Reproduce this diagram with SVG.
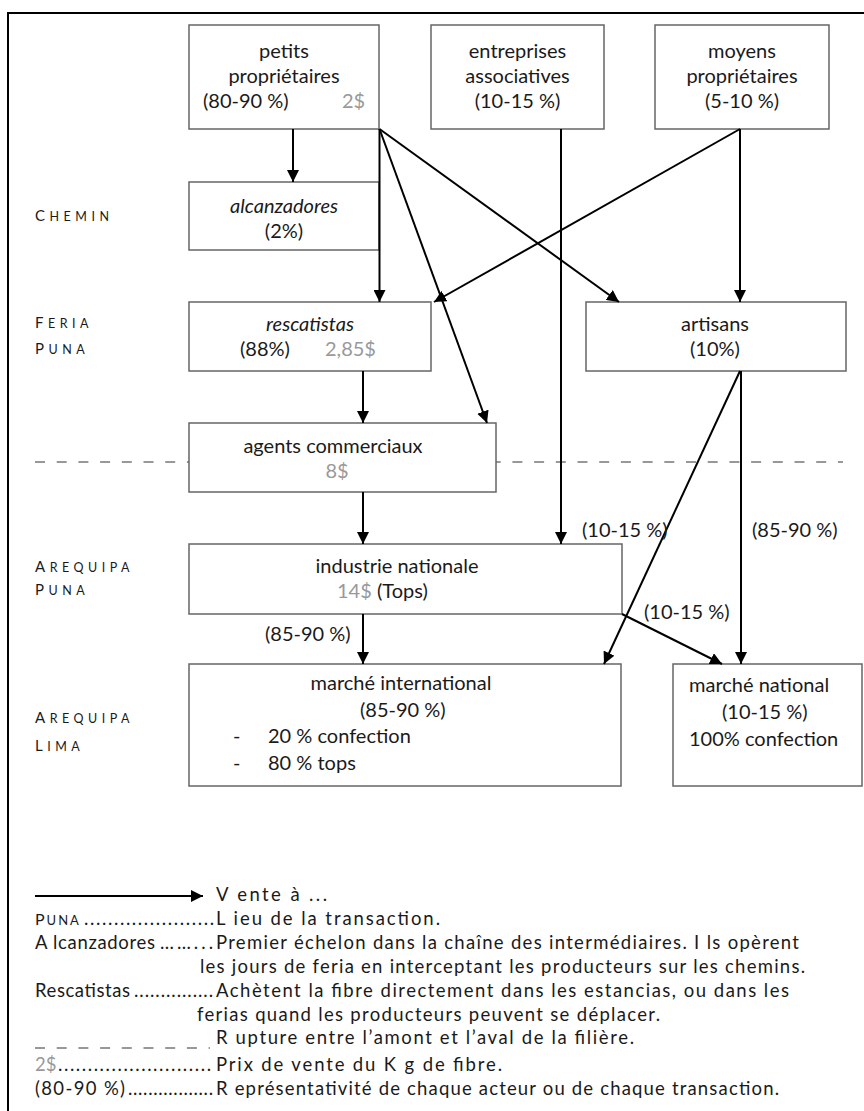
<svg xmlns="http://www.w3.org/2000/svg" width="864" height="1111" viewBox="0 0 864 1111">
<defs>
<marker id="ah" markerUnits="userSpaceOnUse" markerWidth="13" markerHeight="12" refX="12" refY="6" orient="auto">
<path d="M0,0 L12,6 L0,12 z" fill="#000"/>
</marker>
<style>
.box{fill:#fff;stroke:#666;stroke-width:1.5}
.t{font-family:Lato,"Open Sans",sans-serif;font-size:20px;fill:#1a1a1a}
.c{text-anchor:middle}
.i{font-style:italic}
.con{stroke:#000;stroke-width:2;fill:none;marker-end:url(#ah)}
.dash{stroke:#777;stroke-width:1.5;stroke-dasharray:10 11.7;fill:none}
.loc{font-family:Lato,"Open Sans",sans-serif;font-size:12.5px;letter-spacing:4.5px;fill:#1a1a1a}
.big{font-size:15px}
.lg{font-family:Lato,"Open Sans",sans-serif;font-size:18.5px;fill:#1a1a1a}
.lc{font-family:Lato,"Open Sans",sans-serif;font-size:13px;letter-spacing:2px;fill:#1a1a1a}
.g{fill:#999}
</style>
</defs>
<rect x="8" y="13" width="880" height="1120" fill="none" stroke="#000" stroke-width="2"/>
<g id="divider"><line class="dash" x1="35" y1="462" x2="843" y2="462"/></g>
<g id="locations">
<text class="loc" x="35" y="221"><tspan class="big">C</tspan>HEMIN</text>
<text class="loc" x="35" y="328"><tspan class="big">F</tspan>ERIA</text>
<text class="loc" x="35" y="354"><tspan class="big">P</tspan>UNA</text>
<text class="loc" x="35" y="572"><tspan class="big">A</tspan>REQUIPA</text>
<text class="loc" x="35" y="595"><tspan class="big">P</tspan>UNA</text>
<text class="loc" x="35" y="723"><tspan class="big">A</tspan>REQUIPA</text>
<text class="loc" x="35" y="751"><tspan class="big">L</tspan>IMA</text>
</g>
<g id="petits">
<rect class="box" x="189" y="25" width="190" height="104"/>
<text class="t c" x="284" y="58">petits</text>
<text class="t c" x="284" y="83">propriétaires</text>
<text class="t" x="203" y="108">(80-90 %)</text>
<text class="t g" x="342" y="108">2$</text>
</g>
<g id="entreprises">
<rect class="box" x="431" y="25" width="173" height="104"/>
<text class="t c" x="517.5" y="58">entreprises</text>
<text class="t c" x="517.5" y="83">associatives</text>
<text class="t c" x="517.5" y="108">(10-15 %)</text>
</g>
<g id="moyens">
<rect class="box" x="655" y="25" width="174" height="104"/>
<text class="t c" x="742" y="58">moyens</text>
<text class="t c" x="742" y="83">propriétaires</text>
<text class="t c" x="742" y="108">(5-10 %)</text>
</g>
<g id="alcanzadores">
<rect class="box" x="189" y="182" width="190" height="68"/>
<text class="t c i" x="284" y="213">alcanzadores</text>
<text class="t c" x="284" y="238">(2%)</text>
</g>
<g id="rescatistas">
<rect class="box" x="189" y="302" width="242" height="69"/>
<text class="t c i" x="310" y="331">rescatistas</text>
<text class="t" x="240" y="356">(88%)</text>
<text class="t g" x="325" y="356">2,85$</text>
</g>
<g id="artisans">
<rect class="box" x="586" y="302" width="260" height="69"/>
<text class="t c" x="715" y="331">artisans</text>
<text class="t c" x="715" y="356">(10%)</text>
</g>
<g id="agents">
<rect class="box" x="189" y="423" width="307" height="69"/>
<text class="t c" x="333" y="453">agents commerciaux</text>
<text class="t c g" x="337" y="478">8$</text>
</g>
<g id="industrie">
<rect class="box" x="189" y="544" width="433" height="70"/>
<text class="t c" x="397" y="573">industrie nationale</text>
<text class="t" x="337" y="598"><tspan class="g">14$</tspan> (Tops)</text>
</g>
<g id="international">
<rect class="box" x="189" y="664" width="432" height="122"/>
<text class="t c" x="401" y="690">marché international</text>
<text class="t" x="360" y="717">(85-90 %)</text>
<text class="t" x="233" y="743">-</text>
<text class="t" x="268" y="743">20 %  confection</text>
<text class="t" x="233" y="770">-</text>
<text class="t" x="268" y="770">80 %  tops</text>
</g>
<g id="national">
<rect class="box" x="673" y="664" width="189" height="122"/>
<text class="t" x="689" y="692">marché national</text>
<text class="t" x="722" y="719">(10-15 %)</text>
<text class="t" x="689" y="746">100% confection</text>
</g>
<g id="connectors">
<line class="con" x1="293" y1="129" x2="293" y2="182"/>
<line class="con" x1="379.5" y1="129" x2="379.5" y2="302"/>
<line class="con" x1="379.5" y1="129" x2="487" y2="423"/>
<line class="con" x1="379.5" y1="129" x2="619" y2="302"/>
<line class="con" x1="740" y1="129" x2="434" y2="302"/>
<line class="con" x1="740" y1="129" x2="740" y2="302"/>
<line class="con" x1="561" y1="129" x2="561" y2="544"/>
<line class="con" x1="363" y1="371" x2="363" y2="423"/>
<line class="con" x1="363" y1="492" x2="363" y2="544"/>
<line class="con" x1="363" y1="614" x2="363" y2="664"/>
<line class="con" x1="740" y1="371" x2="604" y2="664"/>
<line class="con" x1="741" y1="371" x2="741" y2="664"/>
<line class="con" x1="622" y1="614" x2="722" y2="664"/>
</g>
<g id="flow-labels">
<text class="t" x="265" y="641">(85-90 %)</text>
<text class="t" x="582" y="537">(10-15 %)</text>
<text class="t" x="752" y="537">(85-90 %)</text>
<text class="t" x="644" y="619">(10-15 %)</text>
</g>
<g id="legend">
<line class="con" x1="35" y1="896" x2="203" y2="896"/>
<text class="lg" x="216" y="901" textLength="111" lengthAdjust="spacing">V ente à ...</text>
<text class="lc" x="35" y="925"><tspan font-size="16px">P</tspan>UNA</text>
<text class="lg" x="84" y="925" textLength="130" lengthAdjust="spacing">......................</text>
<text class="lg" x="216" y="925" textLength="224" lengthAdjust="spacing">L ieu de la transaction.</text>
<text class="lg" x="35" y="949" textLength="120" lengthAdjust="spacing">A lcanzadores</text>
<text class="lg" x="160" y="949" textLength="53" lengthAdjust="spacing">……...</text>
<text class="lg" x="216" y="949" textLength="583" lengthAdjust="spacing">Premier échelon dans la chaîne des intermédiaires. I ls opèrent</text>
<text class="lg" x="200" y="973" textLength="605" lengthAdjust="spacing">les jours de feria en interceptant les producteurs sur les chemins.</text>
<text class="lg" x="35" y="997" textLength="95" lengthAdjust="spacing">Rescatistas</text>
<text class="lg" x="134" y="997" textLength="79" lengthAdjust="spacing">...............</text>
<text class="lg" x="216" y="997" textLength="573" lengthAdjust="spacing">Achètent la fibre directement dans les  estancias, ou dans les</text>
<text class="lg" x="197" y="1021" textLength="463" lengthAdjust="spacing">ferias quand les producteurs peuvent se déplacer.</text>
<line class="dash" x1="35" y1="1048" x2="210" y2="1048"/>
<text class="lg" x="216" y="1044" textLength="418" lengthAdjust="spacing">R upture entre l’amont et l’aval de la filière.</text>
<text class="lg g" x="35" y="1071">2$</text>
<text class="lg" x="58" y="1071" textLength="153" lengthAdjust="spacing">..........................</text>
<text class="lg" x="216" y="1071" textLength="286" lengthAdjust="spacing">Prix de vente du K g de fibre.</text>
<text class="lg" x="35" y="1095" textLength="90" lengthAdjust="spacing">(80-90 %)</text>
<text class="lg" x="128" y="1095" textLength="85" lengthAdjust="spacing">.................</text>
<text class="lg" x="216" y="1095" textLength="563" lengthAdjust="spacing">R eprésentativité de chaque acteur  ou de chaque transaction.</text>
</g>
</svg>
